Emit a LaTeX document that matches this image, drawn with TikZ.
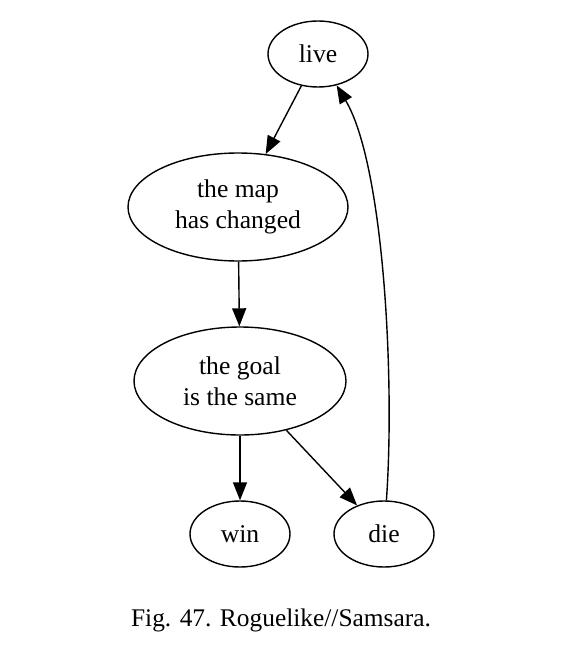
\documentclass[tikz,border=0pt]{standalone}
\usepackage{fontspec}
\setmainfont{Liberation Serif}
\usetikzlibrary{arrows.meta,shapes.geometric}
\begin{document}
\begin{tikzpicture}[x=1pt,y=-1pt,
  every node/.style={font=\fontsize{25.6}{31}\selectfont},
  ell/.style={draw,ellipse,inner sep=0pt,line width=1.4pt,align=center},
  small/.style={ell,minimum width=100pt,minimum height=66pt},
  big/.style={ell,minimum width=#1,minimum height=108pt},
  conn/.style={draw,line width=1.4pt,-{Triangle[length=18pt,width=14pt]}}]
\useasboundingbox (0,0) rectangle (581,669);
\node[small] (live) at (318,54) {live};
\node[big=220pt] (map) at (238,207) {the map\\has changed};
\node[big=212pt] (goal) at (240,381) {the goal\\is the same};
\node[small] (win) at (240,534) {win};
\node[small] (die) at (384,534) {die};
\node[font=\fontsize{25.4}{31}\selectfont] (cap) at (281,620) {Fig. 47. Roguelike//Samsara.};
\path[conn] (live) -- (map);
\path[conn] (map) -- (goal);
\path[conn] (goal) -- (win);
\path[conn] (goal) -- (die);
\path[conn] (die) .. controls (395,380) and (384,165) .. (live);
\end{tikzpicture}
\end{document}
